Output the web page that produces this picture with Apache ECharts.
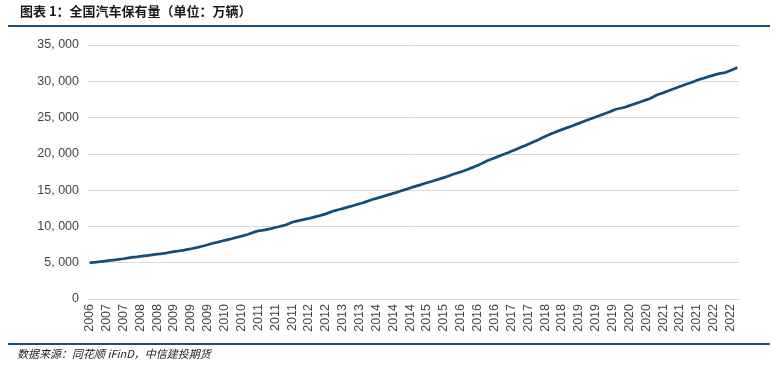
<!DOCTYPE html>
<html>
<head>
<meta charset="utf-8">
<script src="https://cdn.jsdelivr.net/npm/echarts@6/dist/echarts.min.js"></script>
<style>html,body{margin:0;padding:0;background:#fff;}#c{width:779px;height:370px;}</style>
</head>
<body>
<div id="c"></div>
<script>
// Monthly categories, 2006-12 .. 2022-12
const categories = ["2006-12"];
for (let y = 2007; y <= 2022; y++) {
  for (let m = 1; m <= 12; m++) categories.push(y + "-" + (m < 10 ? "0" + m : m));
}
// 汽车保有量（万辆）
const v2006 = [4985];
const v2007 = [5040, 5085, 5140, 5200, 5255, 5310, 5365, 5420, 5480, 5545, 5620, 5697];
const v2008 = [5760, 5810, 5870, 5930, 5990, 6050, 6110, 6170, 6230, 6290, 6370, 6467];
const v2009 = [6530, 6590, 6660, 6740, 6830, 6920, 7020, 7120, 7230, 7340, 7470, 7619];
const v2010 = [7740, 7840, 7960, 8080, 8190, 8300, 8420, 8540, 8660, 8790, 8930, 9086];
const v2011 = [9250, 9400, 9450, 9520, 9620, 9730, 9850, 9960, 10080, 10200, 10380, 10578];
const v2012 = [10690, 10790, 10900, 11000, 11100, 11220, 11340, 11460, 11590, 11730, 11900, 12089];
const v2013 = [12210, 12330, 12460, 12590, 12720, 12850, 12990, 13130, 13270, 13420, 13580, 13741];
const v2014 = [13870, 14000, 14140, 14280, 14420, 14560, 14700, 14850, 15000, 15140, 15290, 15447];
const v2015 = [15590, 15730, 15880, 16020, 16160, 16300, 16440, 16580, 16730, 16880, 17050, 17228];
const v2016 = [17370, 17510, 17680, 17850, 18030, 18210, 18400, 18620, 18850, 19080, 19250, 19440];
const v2017 = [19620, 19800, 19980, 20160, 20350, 20540, 20730, 20930, 21130, 21330, 21530, 21743];
const v2018 = [21950, 22170, 22380, 22590, 22790, 22990, 23170, 23340, 23510, 23680, 23850, 24028];
const v2019 = [24200, 24380, 24560, 24730, 24900, 25070, 25250, 25420, 25590, 25770, 25960, 26150];
const v2020 = [26250, 26350, 26480, 26640, 26800, 26960, 27120, 27280, 27440, 27600, 27840, 28087];
const v2021 = [28250, 28400, 28580, 28760, 28930, 29120, 29290, 29460, 29620, 29770, 29950, 30151];
const v2022 = [30300, 30420, 30580, 30720, 30850, 31000, 31090, 31150, 31300, 31500, 31700, 31903];
const values = [].concat(v2006, v2007, v2008, v2009, v2010, v2011, v2012, v2013, v2014, v2015,
  v2016, v2017, v2018, v2019, v2020, v2021, v2022);

const yTicks = [0, 5000, 10000, 15000, 20000, 25000, 30000, 35000];

const chart = echarts.init(document.getElementById('c'));
chart.setOption({
  animation: false,
  backgroundColor: '#fff',
  grid: { left: 88, right: 40, top: 45, bottom: 71, containLabel: false },
  xAxis: {
    type: 'category',
    data: categories,
    boundaryGap: true,
    axisLine: { show: false },
    axisTick: { show: false },
    axisLabel: {
      interval: 4,
      rotate: 90,
      margin: 5,
      color: '#444444',
      fontFamily: 'Liberation Sans, Arial, sans-serif',
      fontSize: 12.5,
      formatter: function (v) { return v.slice(0, 4); }
    }
  },
  yAxis: {
    type: 'value',
    min: yTicks[0],
    max: yTicks[yTicks.length - 1],
    interval: 5000,
    axisLine: { show: false },
    axisTick: { show: false },
    splitLine: { lineStyle: { color: '#d9d9d9', width: 1 } },
    axisLabel: {
      margin: 9,
      color: '#444444',
      fontFamily: 'Liberation Sans, Arial, sans-serif',
      fontSize: 12.5,
      formatter: function (v) { return v.toLocaleString('en-US').replace(',', ', '); }
    }
  },
  series: [{
    type: 'line',
    data: values,
    showSymbol: false,
    lineStyle: { color: '#124e7c', width: 2.75 },
    itemStyle: { color: '#124e7c' }
  }],
  graphic: [
    { type: 'text', left: 20, top: 5, style: { text: '图表 1：全国汽车保有量（单位：万辆）', font: 'bold 13px "Noto Sans CJK SC"', fill: '#1a1a1a' } },
    { type: 'rect', shape: { x: 8, y: 25, width: 762, height: 2 }, style: { fill: '#1d4e7a' } },
    { type: 'rect', shape: { x: 8, y: 343, width: 762, height: 2 }, style: { fill: '#1d4e7a' } },
    { type: 'text', left: 17, top: 348, style: { text: '数据来源：同花顺 iFinD，中信建投期货', font: 'italic 11px "Noto Sans CJK SC"', fill: '#1a1a1a' } }
  ]
});
</script>
</body>
</html>
